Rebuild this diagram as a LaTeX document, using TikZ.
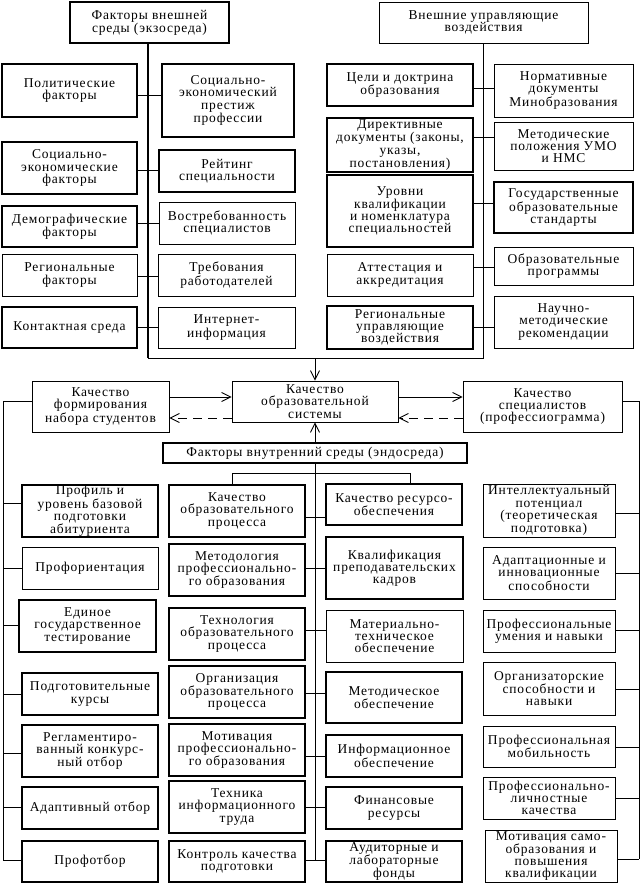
\documentclass[tikz,border=0pt]{standalone}
\usepackage{fontspec}
\setmainfont{Liberation Serif}[LetterSpace=6]
\usetikzlibrary{arrows.meta}
\tikzset{
  boxbase/.style={draw, rectangle, inner sep=0pt, align=center, fill=white,
    font=\fontsize{13.5pt}{12.2pt}\selectfont},
  thinbox/.style={boxbase, line width=0.9pt},
  thickbox/.style={boxbase, line width=1.8pt},
  conn/.style={line width=0.9pt},
  busthick/.style={line width=1.6pt},
  arr/.style={line width=0.9pt, -{Straight Barb[length=9pt,width=9pt]}},
  dasharr/.style={arr, dash pattern=on 9pt off 6pt},
}
\newcommand\bx[7][thinbox]{%
  \pgfmathsetmacro\bxw{#5-#3}\pgfmathsetmacro\bxh{#6-#4}%
  \pgfmathsetmacro\bxcx{(#3+#5)/2}\pgfmathsetmacro\bxcy{(#4+#6)/2}%
  \node[#1, minimum width=\bxw pt, minimum height=\bxh pt] (#2) at (\bxcx,\bxcy) {#7};}
\begin{document}
\begin{tikzpicture}[x=1pt,y=-1pt]
\useasboundingbox (0,0) rectangle (642,883);
% ---------- buses top (drawn first) ----------
\coordinate (tlb) at (148,358);
\coordinate (trb) at (483,358);
% ---------- top-left group ----------
\bx[thickbox]{ext}{70}{2}{229}{43}{Факторы внешней\\среды (экзосреда)}
\bx[thickbox]{pol}{2}{64}{137}{117}{Политические\\факторы}
\bx[thickbox]{prest}{162}{64}{294}{137}{Социально-\\экономический\\престиж\\профессии}
\bx[thickbox]{soc}{2}{142}{137}{194}{Социально-\\экономические\\факторы}
\bx[thickbox]{rat}{159}{150}{295}{192}{Рейтинг\\специальности}
\bx[thickbox]{dem}{2}{206}{137}{247}{Демографические\\факторы}
\bx{vost}{159}{202}{295}{244}{Востребованность\\специалистов}
\bx{reg}{2}{254}{137}{296}{Региональные\\факторы}
\bx{treb}{158}{254}{295}{296}{Требования\\работодателей}
\bx[thickbox]{kont}{2}{307}{137}{348}{Контактная среда}
\bx{inet}{158}{307}{295}{348}{Интернет-\\информация}
\draw[busthick] (ext.south -| tlb) -- (tlb);
\draw[conn] (pol.east |- 0,95) -- (prest.west |- 0,95);
\draw[conn] (soc.east |- 0,170) -- (rat.west |- 0,170);
\draw[conn] (dem.east |- 0,223) -- (vost.west |- 0,223);
\draw[conn] (reg.east |- 0,276) -- (treb.west |- 0,276);
\draw[conn] (kont.east |- 0,327) -- (inet.west |- 0,327);
% ---------- top-right group ----------
\bx{upr}{379}{2}{588}{43}{Внешние управляющие\\воздействия}
\bx[thickbox]{cel}{327}{64}{473}{106}{Цели и доктрина\\образования}
\bx{norm}{494}{64}{633}{117}{Нормативные\\документы\\Минобразования}
\bx[thickbox]{dir}{327}{118}{473}{172}{Директивные\\документы (законы,\\указы,\\постановления)}
\bx{metpol}{494}{122}{633}{170}{Методические\\положения УМО\\и НМС}
\bx[thickbox]{urov}{327}{175}{473}{247}{Уровни\\квалификации\\и номенклатура\\специальностей}
\bx[thickbox]{gos}{494}{182}{633}{233}{Государственные\\образовательные\\стандарты}
\bx{att}{327}{254}{473}{296}{Аттестация и\\аккредитация}
\bx{prog}{494}{247}{633}{285}{Образовательные\\программы}
\bx[thickbox]{regupr}{327}{306}{473}{349}{Региональные\\управляющие\\воздействия}
\bx{nauch}{494}{296}{633}{348}{Научно-\\методические\\рекомендации}
\draw[conn] (upr.south -| trb) -- (trb) -- (tlb);
\draw[conn] (cel.east |- 0,88) -- (norm.west |- 0,88);
\draw[conn] (dir.east |- 0,137) -- (metpol.west |- 0,137);
\draw[conn] (urov.east |- 0,203) -- (gos.west |- 0,203);
\draw[conn] (att.east |- 0,267) -- (prog.west |- 0,267);
\draw[conn] (regupr.east |- 0,327) -- (nauch.west |- 0,327);
% ---------- middle ----------
\bx{nab}{32}{381}{169}{432}{Качество\\формирования\\набора студентов}
\bx{sys}{232}{381}{398}{422}{Качество\\образовательной\\системы}
\bx{spec}{463}{381}{622}{432}{Качество\\специалистов\\(профессиограмма)}
\bx[thickbox]{endo}{163}{443}{467}{463}{Факторы внутренний среды (эндосреда)}
\draw[arr] (sys.north |- tlb) -- (sys.north);
\draw[arr] (endo.north) -- (sys.south);
\draw[arr] (nab.east |- 0,397) -- (sys.west |- 0,397);
\draw[dasharr] (sys.west |- 0,418) -- (nab.east |- 0,418);
\draw[arr] (sys.east |- 0,397) -- (spec.west |- 0,397);
\draw[dasharr] (spec.west |- 0,418) -- (sys.east |- 0,418);
% ---------- bottom columns ----------
\bx[thickbox]{prof}{22}{485}{158}{537}{Профиль и\\уровень базовой\\подготовки\\абитуриента}
\bx{proff}{22}{547}{158}{589}{Профориентация}
\bx[thickbox]{ege}{19}{600}{156}{652}{Единое\\государственное\\тестирование}
\bx[thickbox]{kurs}{22}{673}{158}{715}{Подготовительные\\курсы}
\bx[thickbox]{regl}{22}{725}{158}{777}{Регламентиро-\\ванный конкурс-\\ный отбор}
\bx[thickbox]{adapt}{22}{787}{158}{829}{Адаптивный отбор}
\bx[thickbox]{profot}{22}{841}{158}{882}{Профотбор}
%
\bx[thickbox]{kop}{169}{485}{305}{537}{Качество\\образовательного\\процесса}
\bx[thickbox]{metod}{169}{544}{305}{596}{Методология\\профессионально-\\го образования}
\bx[thickbox]{tech}{169}{608}{305}{660}{Технология\\образовательного\\процесса}
\bx[thickbox]{org}{169}{666}{305}{718}{Организация\\образовательного\\процесса}
\bx[thickbox]{motiv}{169}{724}{305}{776}{Мотивация\\профессионально-\\го образования}
\bx[thickbox]{tekh}{169}{781}{305}{833}{Техника\\информационного\\труда}
\bx[thickbox]{kontr}{169}{841}{305}{882}{Контроль качества\\подготовки}
%
\bx[thickbox]{res}{326}{484}{462}{525}{Качество ресурсо-\\обеспечения}
\bx[thickbox]{kval}{326}{537}{463}{599}{Квалификация\\преподавательских\\кадров}
\bx{mat}{326}{610}{463}{662}{Материально-\\техническое\\обеспечение}
\bx[thickbox]{metob}{326}{672}{462}{723}{Методическое\\обеспечение}
\bx[thickbox]{inf}{326}{735}{462}{777}{Информационное\\обеспечение}
\bx[thickbox]{fin}{326}{787}{462}{829}{Финансовые\\ресурсы}
\bx[thickbox]{aud}{326}{841}{462}{882}{Аудиторные и\\лабораторные\\фонды}
%
\bx{intel}{483}{484}{615}{537}{Интеллектуальный\\потенциал\\(теоретическая\\подготовка)}
\bx{adaptb}{483}{547}{615}{599}{Адаптационные и\\инновационные\\способности}
\bx{umen}{483}{610}{615}{652}{Профессиональные\\умения и навыки}
\bx{orgsp}{483}{662}{615}{715}{Организаторские\\способности и\\навыки}
\bx{mob}{483}{726}{615}{767}{Профессиональная\\мобильность}
\bx{lich}{483}{777}{615}{819}{Профессионально-\\личностные\\качества}
\bx{samo}{485}{830}{617}{882}{Мотивация само-\\образования и\\повышения\\квалификации}
% ---------- bottom buses ----------
\coordinate (lb) at (3,860);
\coordinate (cb) at (315,860);
\coordinate (rb) at (639,859);
\coordinate (barL) at (232,473);
\coordinate (barR) at (410,473);
\draw[conn] (nab.west |- 0,401) -| (lb);
\draw[conn] (lb |- 0,503) -- (prof.west |- 0,503);
\draw[conn] (lb |- 0,568) -- (proff.west |- 0,568);
\draw[conn] (lb |- 0,625) -- (ege.west |- 0,625);
\draw[conn] (lb |- 0,694) -- (kurs.west |- 0,694);
\draw[conn] (lb |- 0,753) -- (regl.west |- 0,753);
\draw[conn] (lb |- 0,807) -- (adapt.west |- 0,807);
\draw[conn] (lb) -- (profot.west |- lb);
%
\draw[conn] (endo.south) -- (cb);
\draw[conn] (kop.north -| barL) -- (barL) -- (barR) -- (res.north -| barR);
\draw[conn] (kop.east |- 0,517) -- (res.west |- 0,517);
\draw[conn] (metod.east |- 0,568) -- (kval.west |- 0,568);
\draw[conn] (tech.east |- 0,630) -- (mat.west |- 0,630);
\draw[conn] (org.east |- 0,693) -- (metob.west |- 0,693);
\draw[conn] (motiv.east |- 0,756) -- (inf.west |- 0,756);
\draw[conn] (tekh.east |- 0,807) -- (fin.west |- 0,807);
\draw[conn] (kontr.east |- cb) -- (aud.west |- cb);
%
\draw[conn] (spec.east |- 0,401) -| (rb);
\draw[conn] (intel.east |- 0,513) -- (rb |- 0,513);
\draw[conn] (adaptb.east |- 0,573) -- (rb |- 0,573);
\draw[conn] (umen.east |- 0,630) -- (rb |- 0,630);
\draw[conn] (orgsp.east |- 0,689) -- (rb |- 0,689);
\draw[conn] (mob.east |- 0,747) -- (rb |- 0,747);
\draw[conn] (lich.east |- 0,798) -- (rb |- 0,798);
\draw[conn] (samo.east |- rb) -- (rb);
\end{tikzpicture}
\end{document}
